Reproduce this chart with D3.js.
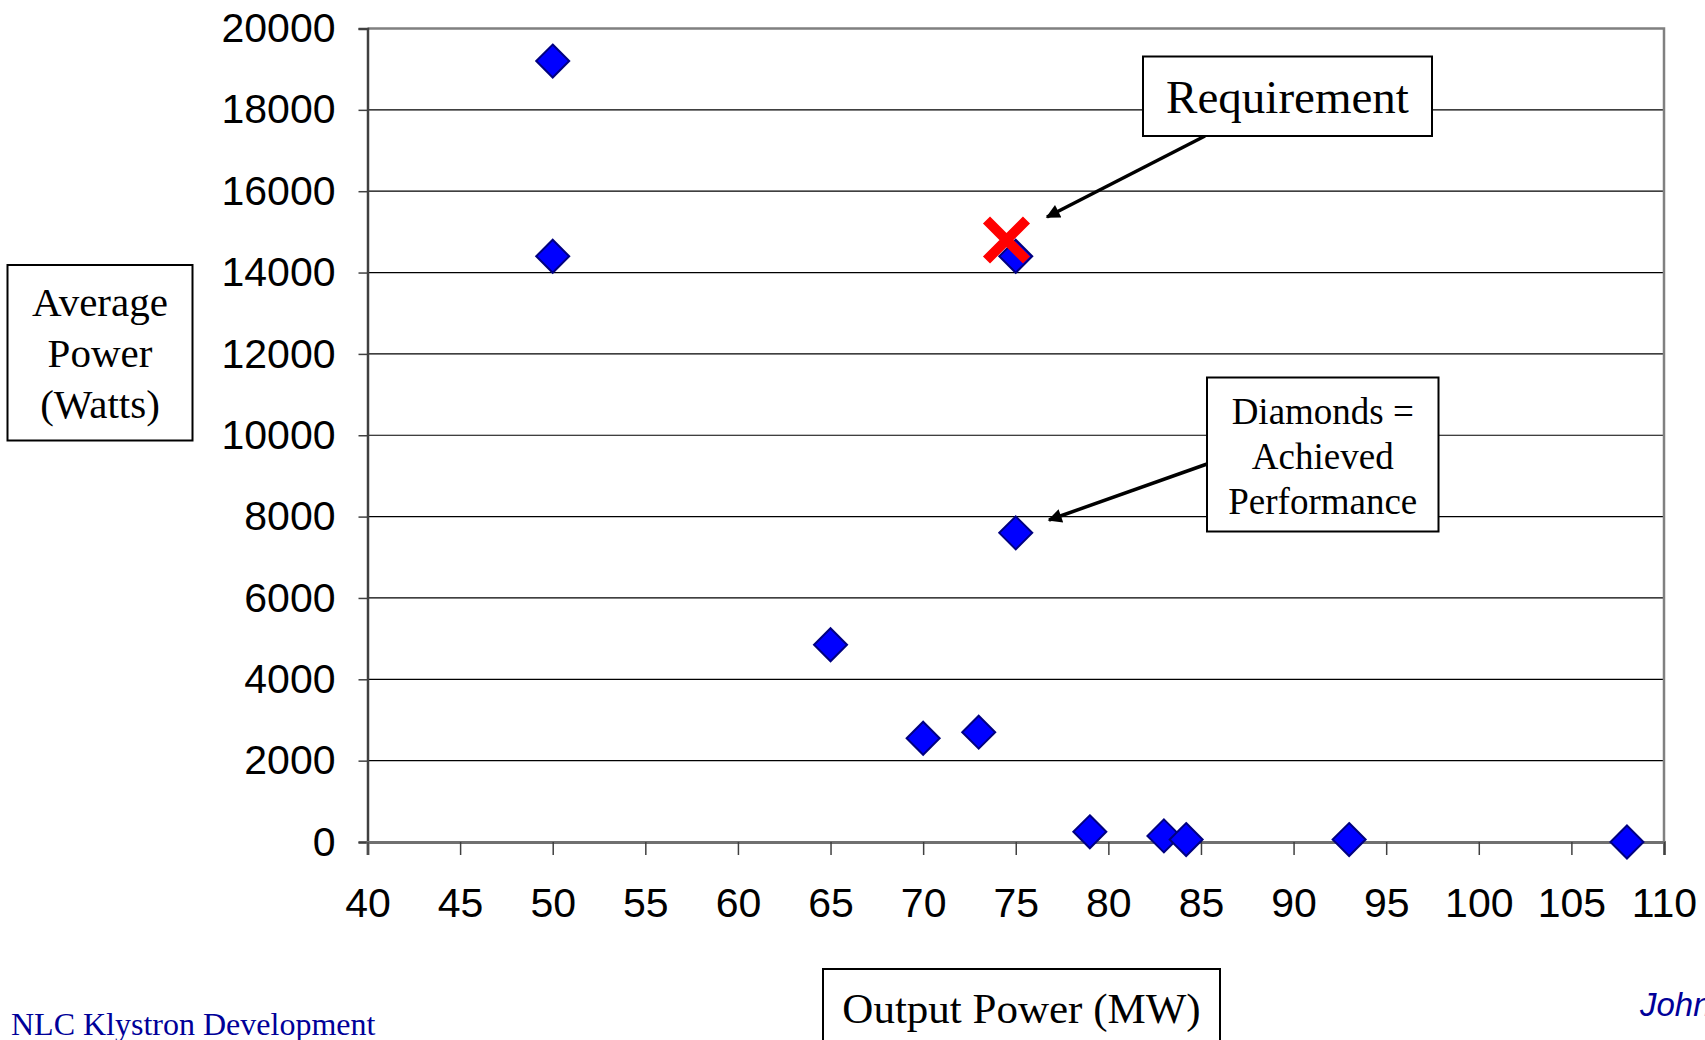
<!DOCTYPE html>
<html>
<head>
<meta charset="utf-8">
<script src="https://cdn.jsdelivr.net/npm/d3@7"></script>
<style>
  body { margin: 0; background: #fff; overflow: hidden; }
  svg { display: block; }
</style>
</head>
<body>
<script>
// achieved performance (diamonds)
const outputMW = [50, 50, 75, 75, 65, 70, 73, 79, 83, 84.2, 93, 108];
const avgWatts = [19200, 14400, 14400, 7600, 4850, 2550, 2700, 250, 150, 60, 60, 0];
// requirement (red cross)
const reqMW = [74.5];
const reqWatts = [14800];

const xTicks = d3.range(40, 111, 5);
const yTicks = d3.range(0, 20001, 2000);

const width = 1705, height = 1040;
const margin = { left: 367.5, right: 41, top: 28.5, bottom: 198 };

const svg = d3.select('body').append('svg')
  .attr('width', width)
  .attr('height', height);

const xScale = d3.scaleLinear()
  .domain([40, 110])
  .range([margin.left, width - margin.right]);

const yScale = d3.scaleLinear()
  .domain([0, 20000])
  .range([height - margin.bottom, margin.top]);

// gridlines
svg.append('g')
  .selectAll('line')
  .data(yTicks.filter(d => d > 0 && d < 20000))
  .enter()
  .append('line')
  .attr('x1', xScale(40))
  .attr('x2', xScale(110))
  .attr('y1', d => yScale(d))
  .attr('y2', d => yScale(d))
  .attr('stroke', '#000')
  .attr('stroke-width', 1.2);

// plot frame, top and right in grey
svg.append('path')
  .attr('d', `M${xScale(40)},${yScale(20000)}H${xScale(110)}V${yScale(0)}`)
  .attr('fill', 'none')
  .attr('stroke', '#808080')
  .attr('stroke-width', 2.5);

const yAxis = d3.axisLeft(yScale)
  .tickValues(yTicks)
  .tickFormat(d3.format('d'))
  .tickSize(9)
  .tickPadding(23);

const xAxis = d3.axisBottom(xScale)
  .tickValues(xTicks)
  .tickFormat(d3.format('d'))
  .tickSize(13)
  .tickPadding(33);

const tickFont = '"Liberation Sans", Arial, sans-serif';

const gy = svg.append('g')
  .attr('transform', `translate(${xScale(40)},0)`)
  .call(yAxis);
gy.select('.domain').attr('stroke', '#404040').attr('stroke-width', 2.5);
gy.selectAll('.tick line').attr('stroke', '#404040').attr('stroke-width', 1.5);
gy.selectAll('text')
  .attr('font-family', tickFont)
  .attr('font-size', 41)
  .attr('fill', '#000');

const gx = svg.append('g')
  .attr('transform', `translate(0,${yScale(0)})`)
  .call(xAxis);
gx.select('.domain').attr('stroke', '#707070').attr('stroke-width', 3);
gx.selectAll('.tick line').attr('stroke', '#404040').attr('stroke-width', 1.5);
gx.selectAll('text')
  .attr('font-family', tickFont)
  .attr('font-size', 41)
  .attr('fill', '#000');

// diamonds
const h = 16.5;
const points = outputMW.map((x, i) => [x, avgWatts[i]]);
svg.append('g')
  .selectAll('path')
  .data(points)
  .enter()
  .append('path')
  .attr('d', d => {
    const cx = xScale(d[0]), cy = yScale(d[1]);
    return `M${cx},${cy - h}L${cx + h},${cy}L${cx},${cy + h}L${cx - h},${cy}Z`;
  })
  .attr('fill', '#0000ff')
  .attr('stroke', '#000080')
  .attr('stroke-width', 2);

// requirement cross
const req = reqMW.map((x, i) => [x, reqWatts[i]]);
const c = 20;
svg.append('g')
  .selectAll('path')
  .data(req)
  .enter()
  .append('path')
  .attr('d', d => {
    const cx = xScale(d[0]), cy = yScale(d[1]);
    return `M${cx - c},${cy - c}L${cx + c},${cy + c}M${cx + c},${cy - c}L${cx - c},${cy + c}`;
  })
  .attr('stroke', '#ff0000')
  .attr('stroke-width', 10)
  .attr('fill', 'none');

// arrows
svg.append('defs').append('marker')
  .attr('id', 'arrow')
  .attr('viewBox', '0 0 10 10')
  .attr('refX', 9)
  .attr('refY', 5)
  .attr('markerWidth', 5)
  .attr('markerHeight', 4)
  .attr('markerUnits', 'strokeWidth')
  .attr('orient', 'auto')
  .append('path')
  .attr('d', 'M0,0L10,5L0,10Z')
  .attr('fill', '#000');

const arrow = (x1, y1, x2, y2) => svg.append('line')
  .attr('x1', x1).attr('y1', y1)
  .attr('x2', x2).attr('y2', y2)
  .attr('stroke', '#000')
  .attr('stroke-width', 3.5)
  .attr('marker-end', 'url(#arrow)');

arrow(1205, 136, 1047, 217);
arrow(1207, 464, 1049, 520);

// text boxes
const serif = '"Liberation Serif", "Times New Roman", serif';
function box(x, y, w, h, lines, size, lineH, ty) {
  svg.append('rect')
    .attr('x', x).attr('y', y)
    .attr('width', w).attr('height', h)
    .attr('fill', '#fff')
    .attr('stroke', '#000')
    .attr('stroke-width', 2);
  const t = svg.append('text')
    .attr('font-family', serif)
    .attr('font-size', size)
    .attr('text-anchor', 'middle')
    .attr('fill', '#000');
  const mid = ty === undefined ? y + h / 2 : ty;
  const y0 = mid - (lines.length - 1) * lineH / 2;
  lines.forEach((s, i) => {
    t.append('tspan')
      .attr('x', x + w / 2)
      .attr('y', y0 + i * lineH)
      .attr('dy', '0.35em')
      .text(s);
  });
}

box(1143, 56.5, 289, 79.5, ['Requirement'], 47, 0);
box(1207, 377.5, 231.5, 154, ['Diamonds =', 'Achieved', 'Performance'], 37, 45, 456);
box(7.5, 265, 185, 175.5, ['Average', 'Power', '(Watts)'], 41, 51);
box(823, 969, 397, 90, ['Output Power (MW)'], 43, 0, 1008);

// footer
svg.append('text')
  .attr('x', 11)
  .attr('y', 1035)
  .attr('font-family', serif)
  .attr('font-size', 32)
  .attr('fill', '#000099')
  .text('NLC Klystron Development');

svg.append('text')
  .attr('x', 1640)
  .attr('y', 1016)
  .attr('font-family', '"Liberation Sans", Arial, sans-serif')
  .attr('font-style', 'italic')
  .attr('font-size', 33)
  .attr('fill', '#000099')
  .text('John');
</script>
</body>
</html>
